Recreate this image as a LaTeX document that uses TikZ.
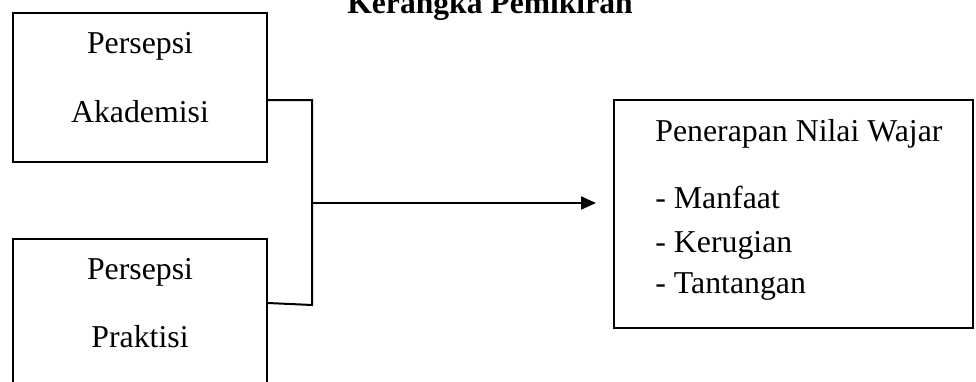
\documentclass[tikz,border=0pt]{standalone}
\usepackage{fontspec}
\setmainfont{Liberation Serif}
\usetikzlibrary{arrows.meta}
\begin{document}
\begin{tikzpicture}[x=0.5pt,y=-0.5pt,
  box/.style={draw,line width=1pt,rectangle,inner sep=0pt},
  txt/.style={anchor=base,inner sep=0pt,font=\fontsize{15.9}{19}\selectfont},
  conn/.style={line width=1pt}]
\useasboundingbox (0,0) rectangle (976,381);
\clip (0,0) rectangle (976,381);
% title
\node[txt,font=\fontsize{15.8}{19}\selectfont\bfseries] (title) at (490,13) {Kerangka Pemikiran};
% boxes
\node[box,minimum width=127pt,minimum height=74.5pt] (b1) at (140,87.5) {};
\node[box,minimum width=127pt,minimum height=100pt] (b2) at (140,339) {};
\node[box,minimum width=179.5pt,minimum height=114pt] (b3) at (793.5,214) {};
% texts
\node[txt] (t1) at (140,53) {Persepsi};
\node[txt] (t2) at (140,122) {Akademisi};
\node[txt] (t3) at (140,279) {Persepsi};
\node[txt] (t4) at (140,347) {Praktisi};
\node[txt,anchor=base west] (r1) at (655,141) {Penerapan Nilai Wajar};
\node[txt,anchor=base west] (r2) at (655,208) {- Manfaat};
\node[txt,anchor=base west] (r3) at (655,252) {- Kerugian};
\node[txt,anchor=base west] (r4) at (655,293) {- Tantangan};
% connectors
\coordinate (c1) at (312,100);
\coordinate (c2) at (312,305);
\coordinate (j) at (312,203);
\coordinate (tip) at (596,203);
\draw[conn] (b1.east |- c1) -- (c1) -- (c2) -- (b2.east |- 0,303);
\draw[conn,-{Triangle[length=7.5pt,width=6.5pt]}] (j) -- (tip);
\end{tikzpicture}
\end{document}
